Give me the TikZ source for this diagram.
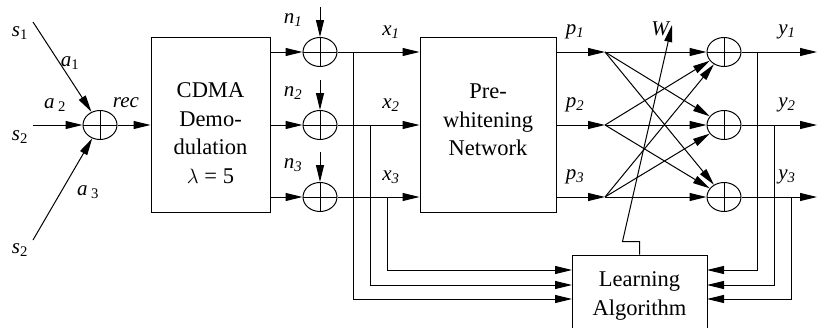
\documentclass[tikz,border=0pt]{standalone}
\usepackage{fontspec}
\setmainfont{Liberation Serif}
\usetikzlibrary{arrows.meta, shapes.geometric, calc}
\tikzset{
  blk/.style   = {draw, line width=1pt, align=center, inner sep=0pt,
                  font=\fontsize{22.5}{28.5}\selectfont},
  adder/.style = {draw, ellipse, line width=1pt, minimum width=34pt,
                  minimum height=29pt, inner sep=0pt,
                  path picture={\draw[line width=1pt]
                    (path picture bounding box.north) -- (path picture bounding box.south)
                    (path picture bounding box.west) -- (path picture bounding box.east);}},
  flow/.style  = {-{Triangle[length=17pt, width=8pt]}, line width=1pt},
  lbl/.style   = {font=\fontsize{21}{21}\selectfont\itshape, inner sep=0pt},
}

\begin{document}
\begin{tikzpicture}[x=1pt, y=-1pt]
    \useasboundingbox (0,0) rectangle (817,327);

    \node[blk, minimum width=119pt, minimum height=175pt] (cdma) at (210.5,124.5)
      {CDMA\rule{0pt}{32pt}\\Demo-\\dulation\\$\lambda$ = 5};
    \node[blk, minimum width=136pt, minimum height=175pt] (pw) at (488,124.5)
      {Pre-\\whitening\\Network\rule[-9pt]{0pt}{9pt}};
    \node[blk, minimum width=135pt, minimum height=82pt] (learn) at (639.5,296)
      {Learning\\Algorithm};

    % received sum
    \node[adder] (rx) at (100,125) {};
    \coordinate (src1) at (33,22);
    \coordinate (src2) at (33,125);
    \coordinate (src3) at (33,240);
    \foreach \i in {1,2,3} \draw[flow] (src\i) -- (rx);
    \draw[flow] (rx.east) -- (rx.east -| cdma.west);

    \node[lbl] (ls1) at (20,33) {s\textsubscript{\upshape 1}};
    \node[lbl] (la1) at (70,63) {a\textsubscript{\upshape 1}};
    \node[lbl] (la2) at (55,105) {a\,\textsubscript{\upshape 2}};
    \node[lbl] (ls2) at (20,137) {s\textsubscript{\upshape 2}};
    \node[lbl] (la3) at (88,192) {a\,\textsubscript{\upshape 3}};
    \node[lbl] (ls3) at (20,250) {s\textsubscript{\upshape 2}};
    \node[lbl] (lrec) at (126,103) {rec};

    % three channels
    \foreach \i/\y in {1/52,2/125,3/197} {
      \node[adder] (na\i) at (320,\y) {};
      \node[adder] (wa\i) at (724,\y) {};
      \coordinate (nz\i) at (320,\y-45);
      \coordinate (fan\i) at (605,\y);
      \coordinate (yo\i) at (817,\y);
      \draw[flow] (nz\i) -- (na\i.north);
      \draw[flow] (cdma.east |- na\i) -- (na\i.west);
      \draw[flow] (na\i.east) -- (na\i.east -| pw.west);
      \draw[flow] (pw.east |- fan\i) -- (fan\i);
      \draw[flow] (wa\i.east) -- (yo\i);
      \node[lbl] (ln\i) at (293,\y-32) {n\textsubscript{\i}};
      \node[lbl] (lx\i) at (391,\y-20) {x\textsubscript{\i}};
      \node[lbl] (lp\i) at (575,\y-20) {p\textsubscript{\i}};
      \node[lbl] (ly\i) at (787,\y-20) {y\textsubscript{\i}};
    }
    \foreach \i in {1,2,3}
      \foreach \j in {1,2,3}
        \draw[flow] (fan\i) -- (wa\j);

    % feedback to the learning block
    \foreach \i/\y/\x/\yl in {1/52/353/299, 2/125/370/285, 3/197/387/270} {
      \coordinate (tx\i) at (\x,\y);
      \coordinate (li\i) at (572,\yl);
      \draw[flow] (tx\i) |- (li\i);
    }
    \foreach \i/\y/\x/\yl in {1/52/757/270, 2/125/774/285, 3/197/791/299} {
      \coordinate (ty\i) at (\x,\y);
      \coordinate (ri\i) at (707,\yl);
      \draw[flow] (ty\i) |- (ri\i);
    }

    \coordinate (wtip) at (672,25);
    \draw[flow] (learn.north) -- ++(0,-13) -- ++(-17,0) -- (wtip);
    \node[lbl] (lw) at (660,29) {W};
\end{tikzpicture}
\end{document}
